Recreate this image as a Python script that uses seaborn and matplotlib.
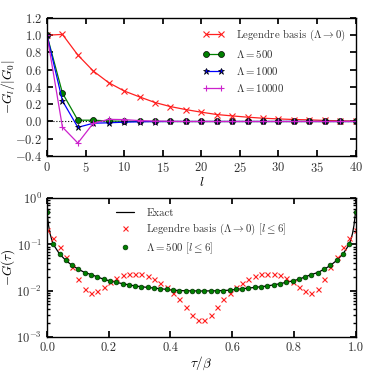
import numpy as np
import pandas as pd
import matplotlib
matplotlib.use("Agg")
import matplotlib.pyplot as plt
import seaborn as sns

# ---------------- data: top panel ----------------
l_vals = [0, 2, 4, 6, 8, 10, 12, 14, 16, 18, 20, 22, 24, 26, 28, 30, 32, 34, 36, 38, 40]
G_legendre = [1.0, 1.01, 0.77, 0.585, 0.45, 0.354, 0.285, 0.22, 0.173, 0.138, 0.108,
              0.081, 0.065, 0.05, 0.038, 0.03, 0.023, 0.019, 0.012, 0.008, 0.004]
G_500 = [1.0, 0.33, 0.015, 0.015, 0.006, 0.002, 0.0, 0.0, 0.0, 0.0, 0.0,
         0.0, 0.0, 0.0, 0.0, 0.0, 0.0, 0.0, 0.0, 0.0, 0.0]
G_1000 = [1.0, 0.24, -0.068, -0.02, -0.015, -0.008, -0.003, -0.001, 0.0, 0.0, 0.0,
          0.0, 0.0, 0.0, 0.0, 0.0, 0.0, 0.0, 0.0, 0.0, 0.0]
G_10000 = [1.0, -0.065, -0.25, -0.02, 0.025, 0.022, 0.01, 0.005, 0.002, 0.0, 0.0,
           0.0, 0.0, 0.0, 0.0, 0.0, 0.0, 0.0, 0.0, 0.0, 0.0]

# ---------------- data: bottom panel ----------------
tau_pts = list(np.linspace(0.0, 1.0, 50))
G_tau_500 = [0.5, 0.1, 0.062, 0.045, 0.035, 0.029, 0.0246, 0.0223, 0.0198, 0.0176,
             0.0162, 0.0152, 0.0141, 0.0132, 0.0126, 0.0122, 0.0117, 0.0113, 0.0110, 0.0106,
             0.0102, 0.0100, 0.0099, 0.0098, 0.0098,
             0.0098, 0.0098, 0.0099, 0.0100, 0.0102, 0.0106, 0.0110, 0.0113, 0.0117, 0.0122,
             0.0126, 0.0132, 0.0141, 0.0152, 0.0162, 0.0176, 0.0198, 0.0223, 0.0246, 0.029,
             0.035, 0.045, 0.062, 0.1, 0.5]
G_tau_leg = [0.21, 0.14, 0.089, 0.054, 0.032, 0.018, 0.011, 0.0090, 0.0099, 0.0117,
             0.0155, 0.019, 0.0217, 0.0224, 0.0226, 0.0224, 0.0206, 0.018, 0.0148, 0.0117,
             0.0090, 0.0065, 0.0045, 0.0029, 0.00225,
             0.00225, 0.0029, 0.0045, 0.0065, 0.0090, 0.0117, 0.0148, 0.018, 0.0206, 0.0224,
             0.0226, 0.0224, 0.0217, 0.019, 0.0155, 0.0117, 0.0099, 0.0090, 0.011, 0.018,
             0.032, 0.054, 0.089, 0.14, 0.21]
exact_tau = [0.0, 0.005, 0.010, 0.015, 0.0204, 0.0408, 0.0612, 0.0816, 0.102, 0.1224,
             0.1429, 0.1633, 0.1837, 0.2041, 0.2449, 0.2857, 0.3265, 0.3673, 0.4082, 0.449,
             0.5, 0.551, 0.5918, 0.6327, 0.6735, 0.7143, 0.7551, 0.7959, 0.8163, 0.8367,
             0.8571, 0.8776, 0.898, 0.9184, 0.9388, 0.9592, 0.9796, 0.985, 0.990, 0.995, 1.0]
exact_G = [0.5, 0.26, 0.17, 0.13, 0.1, 0.062, 0.045, 0.035, 0.029, 0.0246,
           0.0223, 0.0198, 0.0176, 0.0162, 0.0141, 0.0126, 0.0117, 0.0110, 0.0102, 0.0099,
           0.0098, 0.0099, 0.0102, 0.0110, 0.0117, 0.0126, 0.0141, 0.0162, 0.0176, 0.0198,
           0.0223, 0.0246, 0.029, 0.035, 0.045, 0.062, 0.1, 0.13, 0.17, 0.26, 0.5]

RED, GREEN, BLUE, MAGENTA = "#ff2020", "#008000", "#0000ff", "#cc22cc"

sns.set_theme(style="ticks")
plt.rcParams.update({
    "font.family": ["cmr10", "DejaVu Serif"],
    "mathtext.fontset": "cm",
    "axes.formatter.use_mathtext": True,
    "axes.unicode_minus": True,
    "axes.edgecolor": "black",
    "axes.linewidth": 1.0,
    "xtick.direction": "in",
    "ytick.direction": "in",
    "xtick.top": True,
    "ytick.right": True,
    "xtick.major.size": 4,
    "ytick.major.size": 4,
    "xtick.minor.size": 2,
    "ytick.minor.size": 2,
    "xtick.color": "black",
    "ytick.color": "black",
    "xtick.labelcolor": "#333333",
    "ytick.labelcolor": "#333333",
    "xtick.labelsize": 9,
    "ytick.labelsize": 9,
    "axes.labelsize": 9.5,
    "text.color": "black",
    "axes.labelcolor": "black",
})

fig = plt.figure(figsize=(3.74, 3.74), dpi=100)
ax1 = fig.add_axes([0.1257, 0.5829, 0.8249, 0.369])
ax2 = fig.add_axes([0.1257, 0.0997, 0.8249, 0.370])

# ---- top panel ----
ax1.axhline(0.0, color="black", linestyle=":", linewidth=0.8, zorder=1)
series = [
    (G_legendre, RED, "x", r"Legendre basis ($\Lambda \rightarrow 0$)", 4.0),
    (G_500, GREEN, "o", r"$\Lambda = 500$", 4.3),
    (G_1000, BLUE, "*", r"$\Lambda = 1000$", 4.6),
    (G_10000, MAGENTA, "+", r"$\Lambda = 10000$", 5.0),
]
for vals, col, mk, lab, ms in series:
    filled = mk in ("o", "*")
    sns.lineplot(x=l_vals, y=vals, ax=ax1, color=col, marker=mk, markersize=ms,
                 markeredgecolor="black" if filled else col,
                 markeredgewidth=0.5 if filled else 0.8,
                 linewidth=0.9, label=lab, estimator=None)
ax1.set_xlim(0, 40)
ax1.set_ylim(-0.4, 1.2)
ax1.set_xticks(np.arange(0, 41, 5))
ax1.set_yticks(np.arange(-0.4, 1.21, 0.2))
ax1.set_xlabel(r"$l$", labelpad=1)
ax1.set_ylabel(r"$-G_l/|G_0|$")
ax1.yaxis.set_label_coords(-0.098, 0.5)
leg1 = ax1.legend(loc="upper right", frameon=False, fontsize=7.8, numpoints=2,
                  handlelength=1.95, handletextpad=1.1, borderaxespad=0.5,
                  labelspacing=0.45)
for t in leg1.get_texts():
    t.set_color("#333333")

# ---- bottom panel ----
sns.lineplot(x=exact_tau, y=exact_G, ax=ax2, color="black", linewidth=0.9,
             label="Exact", estimator=None, sort=False)
sns.lineplot(x=tau_pts, y=G_tau_leg, ax=ax2, color=RED, marker="x", linestyle="none",
             markersize=3.6, markeredgewidth=0.8, markeredgecolor=RED,
             label=r"Legendre basis ($\Lambda \rightarrow 0$) [$l \leq 6$]", estimator=None)
sns.lineplot(x=tau_pts, y=G_tau_500, ax=ax2, color=GREEN, marker="o", linestyle="none",
             markersize=3.4, markeredgewidth=0.5, markeredgecolor="#003300",
             label=r"$\Lambda = 500$ [$l \leq 6$]", estimator=None)
ax2.set_yscale("log")
ax2.set_xlim(0, 1)
ax2.set_ylim(1e-3, 1)
ax2.set_xticks(np.arange(0, 1.01, 0.2))
ax2.xaxis.set_major_formatter(matplotlib.ticker.FormatStrFormatter("%.1f"))
ax2.set_xlabel(r"$\tau/\beta$", labelpad=1)
ax2.set_ylabel(r"$-G(\tau)$")
ax2.yaxis.set_label_coords(-0.098, 0.5)
leg2 = ax2.legend(loc="upper center", frameon=False, fontsize=7.8, numpoints=1,
                  handlelength=1.7, handletextpad=1.1, borderaxespad=0.5,
                  labelspacing=0.35)
for t in leg2.get_texts():
    t.set_color("#333333")

fig.savefig("out.png", dpi=100)
